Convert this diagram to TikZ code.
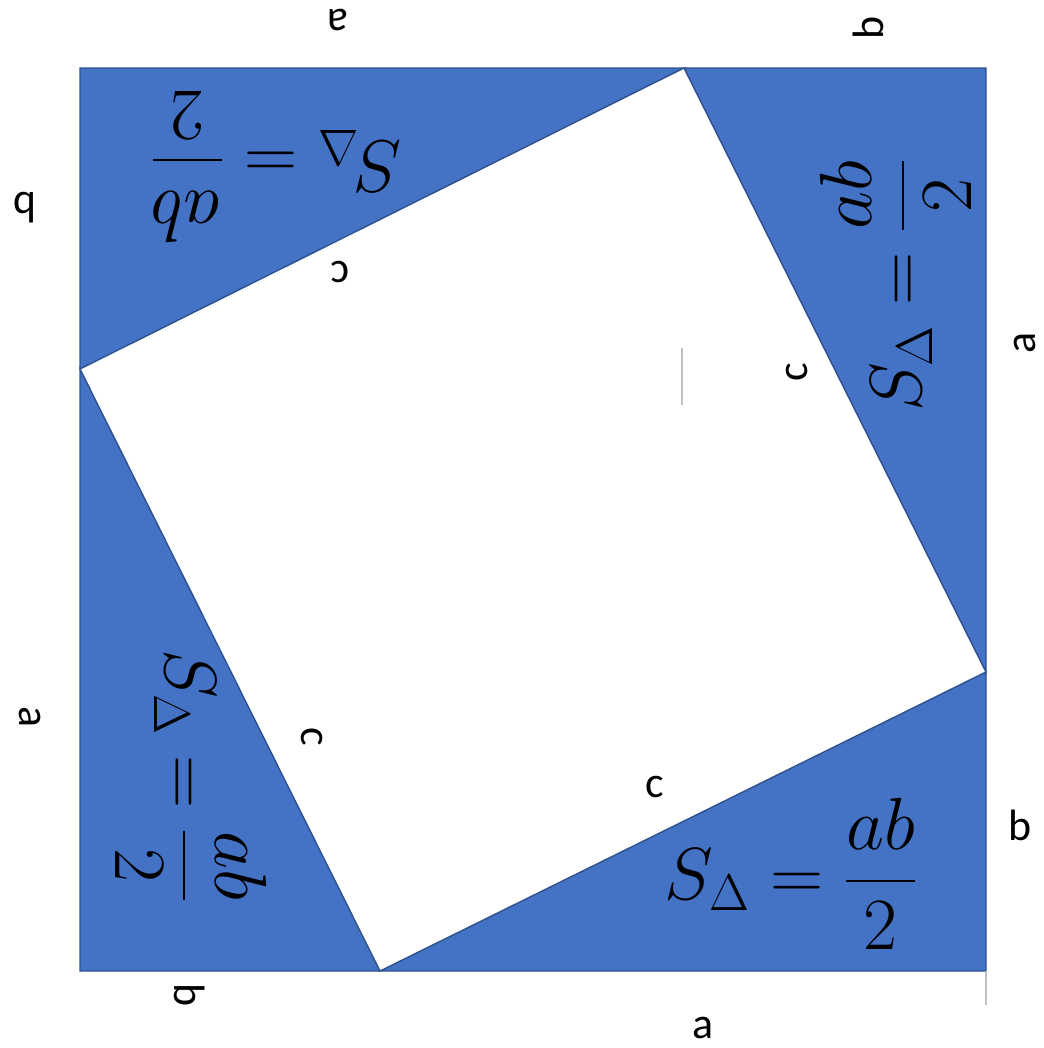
\RequirePackage{fix-cm}
\documentclass[tikz,border=0pt]{standalone}
\usepackage{amsmath}
\usepackage{fontspec}
\setmainfont{Carlito}
\usepackage{tikz}

\definecolor{triblue}{HTML}{4472C4}
\definecolor{triedge}{HTML}{2F528F}
\definecolor{tickgray}{HTML}{BFBFBF}

\begin{document}
\begin{tikzpicture}[
			x=0.02cm,y=-0.02cm,
			tri/.style={
				fill=triblue,
				draw=triedge,
				line width=0.8pt,
				line join=miter
			},
			side/.style={
				inner sep=0pt,
				font=\fontsize{25}{30}\selectfont
			},
			area/.style={
				inner sep=0pt,
				font=\fontsize{42}{50}\selectfont
			},
			tick/.style={draw=tickgray,line width=0.6pt}
			]
			
			\useasboundingbox (0,0) rectangle (1044,1048);
			
			% outer corners and inner square
			\coordinate (tl) at (80,68);
			\coordinate (tr) at (986,68);
			\coordinate (br) at (986,971);
			\coordinate (bl) at (80,971);
			\coordinate (qt) at (684,68);
			\coordinate (qr) at (986,672);
			\coordinate (qb) at (380,971);
			\coordinate (ql) at (80,369);
			
			\path[tri] (qb)--(br)--(qr)--cycle;
			\path[tri] (qr)--(tr)--(qt)--cycle;
			\path[tri] (qt)--(tl)--(ql)--cycle;
			\path[tri] (ql)--(bl)--(qb)--cycle;
			
			% small grey strokes
			\coordinate (m1) at (682,348);
			\coordinate (m2) at (682,405);
			\coordinate (n1) at (986,971);
			\coordinate (n2) at (986,1005);
			\draw[tick] (m1)--(m2);
			\draw[tick] (n1)--(n2);
			
			% bottom right
			\node[area] (sBR) at (791,874)
			{$\displaystyle S_{\Delta}=\frac{ab}{2}$};
			\node[side] (cBR) at (655,787) {c};
			\node[side] (aBR) at (703,1028) {a};
			\node[side] (bBR) at (1020,825) {b};
			
			% right
			\node[area,rotate=90] (sR) at (896,285)
			{$\displaystyle S_{\Delta}=\frac{ab}{2}$};
			\node[side,rotate=90] (cR) at (797,372) {c};
			\node[side,rotate=90] (aR) at (1025,343) {a};
			\node[side,rotate=90] (bR) at (868,28) {b};
			
			% top left
			\node[area,rotate=180] (sTL) at (277,167)
			{$\displaystyle S_{\Delta}=\frac{ab}{2}$};
			\node[side,rotate=180] (cTL) at (340,272) {c};
			\node[side,rotate=180] (aTL) at (338,20) {a};
			\node[side,rotate=180] (bTL) at (25,208) {b};
			
			% bottom left
			\node[area,rotate=-90] (sBL) at (191,776)
			{$\displaystyle S_{\Delta}=\frac{ab}{2}$};
			\node[side,rotate=-90] (cBL) at (312,737) {c};
			\node[side,rotate=-90] (aBL) at (30,717) {a};
			\node[side,rotate=-90] (bBL) at (190,995) {b};
			
		\end{tikzpicture}
\end{document}
